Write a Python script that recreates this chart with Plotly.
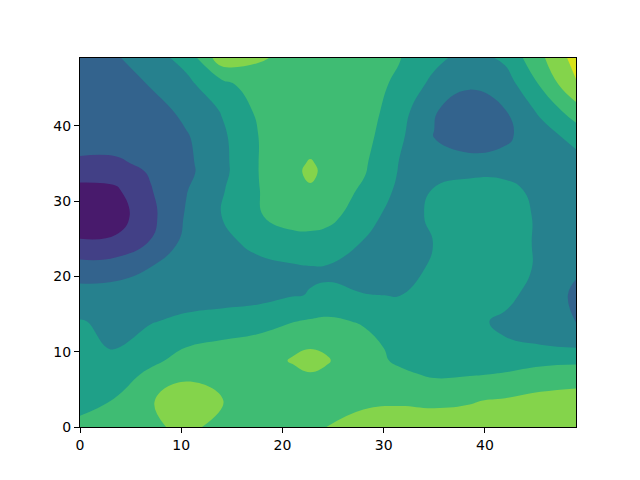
import plotly.graph_objects as go

# grid coordinates (data units)
x_vals = [0, 3.5, 7, 10.5, 14, 17.5, 21, 22.75, 24.5, 28, 31.5, 35, 38.5, 42, 45.5, 49]
y_vals = [0, 3.5, 7, 8.8, 10.5, 14, 17.5, 21, 24.5, 28, 31.5, 33.9, 35, 38.5, 42, 45.5, 49]

# field values, one row per y (bottom to top)
z_y00 = [5.3, 5.4, 5.85, 6.2, 5.75, 5.5, 5.6, 5.8, 6.02, 6.2, 6.2, 6.25, 6.3, 6.4, 6.5, 6.6]
z_y03 = [4.6, 5.05, 5.95, 6.4, 6.02, 5.6, 5.55, 5.6, 5.7, 5.9, 5.95, 5.9, 5.95, 6.1, 6.4, 6.6]
z_y07 = [4.4, 4.65, 5.15, 5.85, 5.7, 5.7, 5.85, 5.95, 5.85, 5.55, 5.2, 4.85, 4.93, 5.05, 5.2, 5.3]
z_y08 = [4.25, 4.3, 4.85, 5.25, 5.45, 5.7, 6.05, 6.3, 6.05, 5.4, 4.85, 4.6, 4.6, 4.7, 4.85, 4.88]
z_y10 = [4.1, 3.97, 4.45, 5.02, 5.3, 5.6, 5.9, 5.97, 5.9, 5.4, 4.7, 4.4, 4.3, 4.15, 4.1, 4.01]
z_y14 = [4.05, 3.8, 3.95, 4.2, 4.3, 4.45, 4.97, 5.1, 5.2, 4.9, 4.4, 4.35, 4.25, 3.8, 3.3, 2.95]
z_y17 = [3.4, 3.45, 3.5, 3.6, 3.7, 3.75, 3.95, 4.03, 4.1, 4.03, 3.98, 4.3, 4.5, 4.3, 3.5, 2.85]
z_y21 = [2.5, 2.6, 3.05, 3.3, 3.45, 3.65, 3.85, 3.92, 3.9, 3.65, 3.6, 4.15, 4.45, 4.45, 3.85, 3.1]
z_y24 = [1.1, 1.2, 2.05, 3.3, 3.7, 4.3, 4.6, 4.65, 4.55, 3.95, 3.5, 4.02, 4.4, 4.45, 3.85, 3.3]
z_y28 = [0.4, 0.5, 1.75, 3.1, 4.02, 4.9, 5.45, 5.45, 5.3, 4.45, 3.5, 4.2, 4.45, 4.45, 3.85, 3.35]
z_y31 = [0.6, 0.85, 1.95, 2.95, 3.9, 4.95, 5.6, 5.85, 5.6, 4.85, 3.82, 4.02, 4.3, 4.25, 3.75, 3.3]
z_y33 = [1.6, 1.5, 2.1, 2.75, 3.72, 4.97, 5.7, 6.25, 5.65, 5.1, 3.95, 3.85, 3.82, 3.8, 3.55, 3.5]
z_y35 = [1.9, 1.85, 2.2, 2.78, 3.73, 4.97, 5.7, 6.1, 5.7, 5.15, 3.98, 3.5, 3.2, 3.3, 3.45, 3.6]
z_y38 = [2.25, 2.4, 2.6, 2.9, 3.8, 4.97, 5.45, 5.5, 5.55, 5.35, 4.2, 2.98, 2.7, 2.85, 3.5, 4.35]
z_y42 = [2.15, 2.35, 2.55, 3.27, 4.06, 5.15, 5.55, 5.6, 5.6, 5.5, 4.45, 3.05, 2.6, 2.97, 4.2, 5.55]
z_y45 = [2.3, 2.5, 3.07, 3.77, 4.66, 5.6, 5.75, 5.7, 5.6, 5.35, 4.85, 3.7, 3.1, 3.5, 5.1, 6.9]
z_y49 = [2.4, 2.88, 3.63, 4.3, 6.6, 6.1, 5.8, 5.7, 5.6, 5.4, 5.05, 4.29, 3.55, 4.2, 5.8, 7.4]

z_rows = [z_y00, z_y03, z_y07, z_y08, z_y10, z_y14, z_y17, z_y21, z_y24,
          z_y28, z_y31, z_y33, z_y35, z_y38, z_y42, z_y45, z_y49]

# viridis sampled at the middle of each of the 8 filled layers
level_colors = ["#481a6c", "#424086", "#33638d", "#26818e",
                "#1fa088", "#3fbc73", "#84d44b", "#d8e219"]
x_ticks = [0, 10, 20, 30, 40]
y_ticks = [0, 10, 20, 30, 40]

n = len(level_colors)
colorscale = [[i / (n - 1), c] for i, c in enumerate(level_colors)]

fig = go.Figure(go.Contour(
    x=x_vals, y=y_vals, z=z_rows,
    autocontour=False,
    contours=dict(start=1, end=7, size=1, coloring="fill", showlines=False),
    line=dict(width=0, smoothing=1.3),
    colorscale=colorscale,
    showscale=False,
    hoverinfo="skip",
))

axis_common = dict(
    showline=True, linecolor="black", linewidth=1, mirror=True,
    ticks="outside", ticklen=5, tickwidth=1, tickcolor="black",
    showgrid=False, zeroline=False,
    tickfont=dict(family="DejaVu Sans", size=14, color="black"),
)

fig.update_layout(
    width=640, height=480,
    margin=dict(l=72, r=72, t=50, b=61),
    paper_bgcolor="white", plot_bgcolor="white",
    xaxis=dict(range=[0, 49], tickvals=x_ticks, **axis_common),
    yaxis=dict(range=[0, 49], tickvals=y_ticks, **axis_common),
)

fig.write_html("out.html")
